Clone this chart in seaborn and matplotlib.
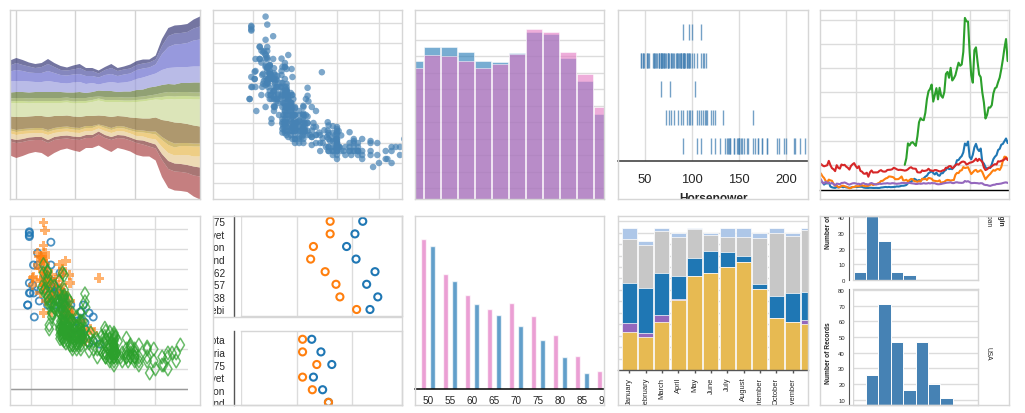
import numpy as np
import pandas as pd
import seaborn as sns
import matplotlib.pyplot as plt

sns.set_style("white")
plt.rcParams['font.family'] = ['Liberation Sans', 'DejaVu Sans']

# ---------------- data ----------------
# streamgraph, unemployment per industry (31 time steps)
agriculture = [5,5,5,4,4,4,5,4,4,3,4,4,3,3,3,3,4,3,3,4,4,4,3,4,7,8,8,8,8,9,10]
business = [6,7,6,6,5,6,7,6,5,5,5,6,5,5,4,5,6,5,5,5,5,5,5,5,8,11,11,11,11,12,13]
construction = [10,11,10,9,9,9,10,9,8,8,8,8,8,7,7,8,8,7,8,8,9,9,8,9,16,21,23,23,24,26,27]
education = [11,11,11,11,10,10,11,10,9,9,10,10,9,9,6,8,9,9,9,10,11,12,12,13,15,16,17,16,16,16,16]
finance = [6,6,6,6,6,6,6,6,6,5,6,6,5,5,6,6,6,5,6,6,7,7,8,8,8,8,8,9,9,10,10]
government = [3,3,3,3,3,3,3,3,3,3,3,3,3,3,2,3,3,3,3,3,3,3,3,3,4,4,4,4,4,4,4]
information = [2,2,2,2,2,2,2,2,2,2,2,2,2,2,2,2,2,2,2,2,2,2,2,2,3,3,3,3,3,3,3]
leisure = [13,14,14,13,13,13,14,13,13,13,13,14,13,14,15,14,15,14,14,15,16,17,18,18,20,22,23,24,25,26,27]
manufacturing = [12,13,12,12,12,12,13,12,11,11,11,11,10,10,9,10,11,10,10,11,12,12,13,14,17,20,21,20,19,18,17]
mining = [2,2,2,2,2,2,2,2,2,2,2,2,2,2,1,2,2,2,2,2,2,2,2,3,3,4,4,3,3,3,3]
other = [3,3,3,3,3,3,3,3,3,3,3,3,3,3,3,3,3,3,3,3,4,4,5,5,7,8,8,9,9,10,10]
self_employed = [5,5,5,4,4,4,5,4,4,4,4,4,4,4,3,4,4,4,4,4,4,4,4,5,7,8,8,9,10,10,11]
transport = [3,3,3,3,3,3,3,3,3,3,3,3,3,3,3,3,3,3,3,3,3,4,4,4,6,8,8,8,8,9,9]
wholesale = [14,15,14,13,12,13,14,13,11,10,11,12,10,10,11,11,12,10,11,11,12,12,10,12,17,19,19,19,19,21,23]

# cars: horsepower / miles per gallon by origin
usa_hp = [63,65,65,67,68,70,70,70,70,71,72,72,72,74,75,75,75,75,76,78,78,78,79,70,65,75,
          80,80,81,82,84,84,84,84,85,85, 85,85,85,86,86,88,88,88,88,88,
          88,88,88,88,88,88,88,88,90,90, 90,90,90,90,90,90,90,90,90,90,
          90,90,90,92,92,92,95,95,95,95, 95,95,95,96,97,97,97,97,98,98,
          98,98,90,85,86,88,90,92,95,97, 99,
          100,100,100,100,100,100,100,100,100,100, 100,100,105,105,105,105,105,105,105,105,
          105,105,107,108,110,110,110,110,110,110, 110,110,110,110,110,110,110,112,112,113,
          115,115,115,116,115,118,110,
          120,120,120,122,125,125,129,130,130,130,133,135,137,138,139,139,
          140,140,140,140,140,140,140,140,142,145, 145,145,145,145,145,145,148,148,149,150,
          150,150,150,150,150,150,150,150,150,150, 150,150,150,150,150,150,150,152,152,153,
          153,155,155,158,150,145,150,
          160,160,165,165,165,165,167,170,170,170,170,170,175,175,175,175,175,165,170,175,
          180,180,180,180,190,190,190,190,193,198,198,
          200,208,210,215,215,215,208, 220,225,225,230]
usa_mpg = [30.5,29.5,36.1,30,29,34.2,32,34.5,28,27,21,20,26,31,26,28,23,26.5,24,25.4,29,30.7,26,33,34,24,
           27.4,25,22,26,27,26.6,32,29,17.6,19.8, 20.2,21,24,22,25,18,19,20.2,21,22,
           24,26.4,27,28,34,19.8,20,23,18,19, 20,21,22,23.9,24.3,28,27,26,19.1,20.2,
           28.4,29.8,33.5,25.8,24,27,18,19,20.5,21, 22,23,27.5,27,18,19,20,21.5,18.5,19,
           20,22,23,18.5,19,17.5,17,16.5,17,16, 22,
           15,16,16,17,18,18,19,19,20,20.5, 22,24,15,16,16.5,18,18,19,19.2,20.5,
           20.6,23,18,16.5,15,16,17,17.5,18,18, 18.6,19,19.9,20,20.6,21.5,22,18,19,22,
           18,26.8,28.8,25.4,20,17,24,
           14.5,16.5,18.1,19,15,17,17.6,13,15,17,15,18.2,14,16.5,18.1,20.2,
           13,13,14,14,16,17,17.5,19.4,15.5,13, 13,14,15.5,16,17.5,19.2,17,14,16,11,
           13,13,14,14,14,15,15,15,15.5,16, 16,17,18,18.5,19,13,14,14,18,14,
           14,13,16.9,13,12,12,17.5,
           12,14,13,14,15,17.7,12,13,13,15,15.5,16,13,13,14,13,12,13,14,15,
           11,12,13,16,12,13,15,15.5,9,15,12,
           10,11,11,10,14,13,13, 14,14,12,16]
europe_hp = [46,46,48,48,48,48,48,48,49,52, 53,53,54,58,60,62,67,67,70,71,
             71,74,74,76,76,78,78,78,80,80, 83,83,85,86,87,88,88,90,90,90,
             95,95,96,97,98,100,102,103,105,110, 110,110,112,113,115,115,120,120,125,133,
             125,91,92,88,71,58,76,67]
europe_mpg = [26,26,43.1,44.3,43.4,44,31.5,29,29,31, 36,29,23,36,27,29.8,30,36,26,27,
              31,41.7,36,30,30.5,26,29,31,27,29, 30,29,34,28,25,27,28,24,28,22,
              25,24,25,23,26,22,20,20.3,22,19, 24.3,22.4,18,26,21.6,20,16.5,24,17,16.2,
              23,27,26,25,32,39,32,33]
japan_hp = [58,52,53,58,52,
            65,65,67,67,67,60,60,65,61,62, 63,65,67,68,68,69,70,75,75,65,
            68,75,72,70,75,67,70,65,79,75, 62,67,67,75,74,65,68,61,69,70, 75,
            88,90,97,88,95,97,92,88,88,97, 95,97,96,84,88,92,88,90,95,97, 88,84,90,85,94,
            100,110,115,110,112, 122,132,125]
japan_mpg = [39.1,31,33,36,32.8,
             46.6,40.8,44.6,36.4,38,35.1,38.1,37.2,32,37.7, 38,31,31,31,34.1,32.4,32.2,31,32.4,34.4,
             29.8,27,32,31,28,33.8,34.5,37,31.8,29, 32.3,39,33.8,33.7,28,24,27,29,31,32.7, 24.2,
             27,24,24,20,25,27,26,29,31,22, 23,31.5,33.5,36.1,35,37,34,29,18,19, 23,33,28,30,24.5,
             23.7,22,17,18,20, 20,32.7,19]

# overlapping histogram (two series)
hist_bins = [1,2,3,4,5,6,7,8,9,10,11,12]
hist_blue = [43.6,47.8,47.8,46.3,43.6,43.3,46.0,52.4,51.8,44.5,37.6,27.5]
hist_pink = [41.5,45.4,45.1,43.7,41.5,42.7,45.7,53.3,52.4,46.3,39.6,29.6]

# horsepower ticks by cylinders
hp_3cyl = [90,97,100,110]
hp_4cyl = [46,46,48,48,49,52,52,53,54,58,60,60,61,62,63,65,65,65,67,67,67,68,68,69,70,70,71,72,74,
           75,75,76,78,78,79,80,81,83,84,84,85,86,87,88,88,88,90,90,91,92,92,93,95,95,96,97,97,98,
           100,102,105,110,112,113,115]
hp_5cyl = [67,77,103]
hp_6cyl = [72,76,78,81,85,88,90,95,97,98,100,105,107,110,112,114,115,116,120,122,125,133,165]
hp_8cyl = [90,105,110,120,125,130,135,137,138,139,140,140,145,145,148,149,150,150,150,152,153,155,
           158,160,165,167,170,170,175,175,180,180,190,193,198,200,208,210,215,220,225,230]
cyl_labels = ['3', '4', '5', '6', '8']

# monthly stock prices 2000-01 .. 2010-03
msft = [39.81,36.35,43.22,28.37,25.45,32.54,28.4,28.4,24.53,28.02,23.34,17.65,
        24.84,24,22.25,27.56,28.14,29.7,26.93,23.21,20.82,23.65,26.12,26.95,
        25.92,23.73,24.53,21.26,25.71,27.12,23.12,22.88,20.69,25.34,27.5,24.28,
        22.14,22.04,22.7,24.74,23.68,24.89,25.66,25.81,26.88,25.49,25.26,26.85,
        26.49,25.2,24.35,25.27,25.57,27.99,27.91,27.13,27.21,27.43,28.2,26.63,
        25.91,24.99,23.59,23.9,25.45,24.38,25.13,26.89,25.32,25.55,27.16,25.74,
        27.46,26.53,26.7,23.74,22.33,22.75,23.48,25.39,26.69,28.15,28.95,29.32,
        30.26,27.37,27.17,29.95,30.54,28.92,28.46,28.01,28.98,35.78,33.22,35.09,
        31.16,26.86,27.39,27.98,27.31,26.83,25.45,26.78,26.24,21.17,19.24,19.09,
        16.88,15.67,18.05,20.06,20.66,23.34,23.45,24.36,25.38,27.44,29.12,30.23,
        28.0,28.49,29.27]
amzn = [64.56,68.87,67.0,55.19,48.31,36.31,30.12,41.5,38.44,36.62,24.69,15.56,
        17.31,10.19,10.23,15.78,16.69,14.15,12.49,8.94,5.97,6.98,11.32,10.82,
        14.19,14.1,14.3,16.69,18.23,16.25,14.45,14.94,15.93,19.36,23.35,18.89,
        21.85,22.01,26.03,28.69,35.89,36.32,41.64,46.32,48.43,54.43,53.97,52.62,
        50.4,43.01,43.28,43.6,48.5,54.4,38.92,38.14,40.86,34.13,39.68,44.29,
        43.22,35.18,34.27,32.36,35.51,33.09,45.15,42.7,45.3,39.86,48.46,47.15,
        44.82,37.44,36.53,35.21,34.61,38.68,26.89,30.83,32.12,38.09,40.34,39.46,
        37.67,39.14,39.79,61.33,69.14,68.41,78.54,79.91,93.15,89.15,90.56,92.64,
        77.7,64.47,71.3,78.63,81.62,73.33,76.34,80.81,72.76,57.24,42.7,51.28,
        58.82,64.79,73.44,80.52,77.99,83.66,85.76,81.19,93.36,118.81,135.91,134.52,
        125.41,118.4,128.82]
ibm = [100.52,92.11,106.11,99.95,96.31,98.33,100.74,118.62,101.19,88.5,84.12,76.47,
       100.76,89.98,86.63,103.7,100.82,102.35,94.87,90.25,82.82,97.58,104.5,109.36,
       97.54,88.82,96.44,77.24,74.25,66.36,65.5,69.94,53.44,71.5,79.2,70.49,
       71.22,71.13,71.57,77.47,80.48,75.42,74.28,75.12,81.22,81.85,82.14,84.03,
       89.84,87.77,83.77,81.19,81.98,81.24,80.14,78.39,79.85,83.99,89.77,92.48,
       87.3,86.71,85.98,71.88,71.01,70.97,79.48,76.91,77.98,79.61,86.16,79.54,
       78.76,77.18,80.8,80.43,77.63,75.35,75.81,79.56,80.54,90.37,89.76,96.67,
       97.01,88.26,92.4,100.84,105.36,103.17,109.41,114.45,115.91,113.26,103.86,106.6,
       110.94,112.29,114.81,119.74,127.81,117.76,126.9,120.81,115.13,91.8,80.81,83.93,
       90.2,91.96,96.25,101.53,105.34,103.72,117.05,115.85,118.56,120.42,124.62,130.9,
       122.27,126.3,126.28]
goog = [102.37,129.6,190.64,181.98,192.79,
        195.62,187.99,180.51,220,277.27,294.15,287.76,286,316.46,372.14,404.91,414.86,
        432.66,362.62,390,417.94,371.82,419.33,386.6,378.53,401.9,476.39,484.81,460.48,
        501.5,449.45,458.16,471.38,497.91,522.7,510,515.25,567.27,707,693,691.48,
        564.3,471.18,440.47,574.29,585.8,526.42,473.75,463.29,400.52,359.36,292.96,307.65,
        338.53,337.99,348.06,395.97,417.23,421.59,443.05,461.67,495.85,536.12,583,619.98,
        529.94,526.8,560.19]
aapl = [25.94,28.66,33.95,31.01,21,26.19,25.41,30.47,12.88,9.78,8.25,7.44,
        10.81,9.12,11.03,12.74,9.98,11.62,9.4,9.27,7.76,8.78,10.65,10.95,
        12.36,10.85,11.84,12.14,11.65,8.86,7.63,7.38,7.25,8.03,7.75,7.16,
        7.18,7.51,7.07,7.11,8.98,9.53,10.54,11.31,10.36,11.44,10.45,10.69,
        11.28,11.96,13.52,12.89,14.03,16.27,16.17,17.25,19.38,26.2,33.53,32.2,
        38.45,44.86,41.67,36.06,39.76,36.81,42.65,46.89,53.61,57.59,67.82,71.89,
        75.51,68.49,62.72,70.39,59.77,57.27,67.96,67.85,76.98,81.08,91.66,84.84,
        85.73,84.61,92.91,99.8,121.19,122.04,131.76,138.48,153.47,189.95,182.22,198.08,
        135.36,125.02,143.5,173.95,188.75,167.44,158.95,169.53,113.66,107.59,92.67,85.35,
        90.13,89.31,105.12,125.83,135.81,142.43,163.39,168.21,185.35,188.5,199.91,210.73,
        192.06,204.62,223.02]

# barley yields for two sites
varieties = ['Svansota', 'Manchuria', 'No. 475', 'Velvet', 'Glabron', 'Peatland',
             'No. 462', 'No. 457', 'Wisconsin No. 38', 'Trebi']
waseca_1931 = [47.0, 45.0, 43.7, 40.9, 37.9, 41.3, 48.1, 45.1, 49.1, 46.3]
waseca_1932 = [30.0, 32.0, 32.0, 32.0, 26.0, 25.0, 30.2, 34.1, 35.5, 41.5]
crookston_1931 = [25.4, 28.7, 32.6, 26.0, 29.3, 31.4, 30.0, 29.0, 33.0, 36.0]
crookston_1932 = [22.1, 22.1, 27.2, 22.1, 25.6, 31.4, 25.0, 26.0, 27.0, 30.0]

# population by age (millions)
ages = [50, 55, 60, 65, 70, 75, 80, 85, 90]
pop_female = [9.33, 7.19, 5.89, 5.0, 5.38, 4.56, 3.38, 2.06, 1.13]
pop_male = [8.89, 6.75, 5.33, 4.63, 3.94, 3.06, 2.0, 1.0, 0.45]

# weather days per month
month_names = ['January', 'February', 'March', 'April', 'May', 'June', 'July',
               'August', 'September', 'October', 'November', 'December']
w_sun = [33, 29, 42, 61, 82, 85, 90, 94, 71, 45, 42, 40]
w_snow = [8, 3, 6, 1, 0, 0, 0, 0, 0, 0, 0, 4]
w_rain = [35, 40, 37, 20, 16, 19, 13, 6, 4, 20, 25, 24]
w_fog = [38, 37, 36, 34, 25, 14, 13, 16, 40, 55, 50, 54]
w_drizzle = [10, 4, 3, 4, 1, 2, 8, 8, 5, 4, 3, 2]

# horsepower histogram bins
hist_edges = [40, 60, 80, 100, 120, 140, 160, 180, 200, 220, 240]

# ---------------- layout helpers ----------------
W, H = 1025, 414
GRID = '#dcdcdc'
EDGE = '#d6d6d6'
DARK = '#555555'

fig = plt.figure(figsize=(W / 100, H / 100), dpi=100)
clip_pairs = []
clip_texts = []


def box(x0, y0, x1, y1):
    return [x0 / W, 1 - y1 / H, (x1 - x0) / W, (y1 - y0) / H]


def frame(x0, y0, x1, y1):
    fa = fig.add_axes(box(x0, y0, x1, y1), zorder=10)
    fa.patch.set_visible(False)
    fa.set_xlim(x0, x1)
    fa.set_ylim(y1, y0)
    fa.set_xticks([])
    fa.set_yticks([])
    for s in fa.spines.values():
        s.set_color(EDGE)
        s.set_linewidth(1)
    return fa


def bare(ax):
    for s in ax.spines.values():
        s.set_visible(False)
    ax.tick_params(length=0, labelbottom=False, labelleft=False)
    ax.set_xlabel('')
    ax.set_ylabel('')
    ax.set_axisbelow(True)


# ---------------- 1: streamgraph ----------------
f1 = frame(10, 11, 200, 200)
ax1 = fig.add_axes(box(10, 11, 200, 200))
stream_x = np.linspace(2000.7, 2010.3, 31)
layers = [wholesale, transport, self_employed, other, mining, manufacturing, leisure,
          information, government, finance, education, construction, business, agriculture]
layer_colors = ['#ad494a', '#843c39', '#e7cb94', '#e7ba52', '#bd9e39', '#8c6d31', '#cedb9c',
                '#b5cf6b', '#8ca252', '#637939', '#9c9ede', '#6b6ecf', '#5254a3', '#393b79']
ax1.stackplot(stream_x, *layers, baseline='sym', colors=layer_colors, alpha=0.7,
              edgecolor='none', linewidth=0)
ax1.set_xlim(2000.7, 2010.3)
ax1.set_ylim(-91, 98)
ax1.set_xticks([2001, 2004, 2007])
ax1.set_yticks([])
bare(ax1)
ax1.grid(axis='x', color='#d2d2d2', lw=1)

# ---------------- 2: scatter ----------------
f2 = frame(213, 11, 402, 200)
ax2 = fig.add_axes(box(213, 11, 402, 200))
all_hp = usa_hp + europe_hp + japan_hp
all_mpg = usa_mpg + europe_mpg + japan_mpg
sns.scatterplot(x=all_hp, y=all_mpg, ax=ax2, color='#4682b4', alpha=0.7, s=22,
                edgecolor='none')
ax2.set_xlim(2.4, 227.4)
ax2.set_ylim(1, 48.25)
ax2.set_xticks([50, 100, 150, 200])
ax2.set_yticks(range(5, 50, 5))
bare(ax2)
ax2.grid(True, color=GRID, lw=1)

# ---------------- 3: overlapping bars ----------------
f3 = frame(415, 11, 604, 200)
ax3 = fig.add_axes(box(415.3, 11, 604.3, 200))
sns.barplot(x=hist_bins, y=hist_blue, color='#1f77b4', alpha=0.6, saturation=1, width=0.94,
            edgecolor='white', linewidth=0.6, errorbar=None, ax=ax3)
sns.barplot(x=hist_bins, y=hist_pink, color='#e377c2', alpha=0.6, saturation=1, width=0.94,
            edgecolor='white', linewidth=0.6, errorbar=None, ax=ax3)
ax3.set_xlim(0.018, 11.135)
ax3.set_ylim(1.76, 59.0)
ax3.set_yticks(range(5, 60, 5))
bare(ax3)
ax3.grid(axis='y', color=GRID, lw=1)

# ---------------- 4: tick strips ----------------
f4 = frame(618, 11, 808, 200)
ax4 = fig.add_axes(box(618, 11, 808, 162))
for i, vals in enumerate([hp_3cyl, hp_4cyl, hp_5cyl, hp_6cyl, hp_8cyl]):
    ax4.vlines(vals, i - 0.27, i + 0.27, color='#4682b4', alpha=0.75, lw=1)
ax4.set_xlim(21.3, 223.4)
ax4.set_ylim(4.53, -0.77)
ax4.set_xticks([50, 100, 150, 200])
ax4.set_yticks([])
for s in ['top', 'right', 'left']:
    ax4.spines[s].set_visible(False)
ax4.spines['bottom'].set_color('#444444')
ax4.spines['bottom'].set_linewidth(1.2)
ax4.tick_params(axis='x', length=3.4, width=1, color='#444444', pad=5.4, labelsize=9.4)
ax4.set_xlabel('Horsepower', fontweight='bold', fontsize=8.6, labelpad=5.2)
ax4.set_axisbelow(True)
ax4.grid(axis='x', color=GRID, lw=1)
clip_pairs.append((ax4, f4))

# ---------------- 5: stock lines ----------------
f5 = frame(820, 11, 1009, 200)
ax5 = fig.add_axes(box(820, 11, 1008, 190.7))
months = 2000 + np.arange(len(msft)) / 12
stocks = pd.concat([
    pd.DataFrame({'date': months, 'price': aapl, 'symbol': 'AAPL'}),
    pd.DataFrame({'date': months, 'price': amzn, 'symbol': 'AMZN'}),
    pd.DataFrame({'date': months[-len(goog):], 'price': goog, 'symbol': 'GOOG'}),
    pd.DataFrame({'date': months, 'price': ibm, 'symbol': 'IBM'}),
    pd.DataFrame({'date': months, 'price': msft, 'symbol': 'MSFT'}),
])
sns.lineplot(data=stocks, x='date', y='price', hue='symbol',
             hue_order=['AAPL', 'AMZN', 'GOOG', 'IBM', 'MSFT'],
             palette=['#1f77b4', '#ff7f0e', '#2ca02c', '#d62728', '#9467bd'],
             lw=1.5, legend=False, ax=ax5)
ax5.set_xlim(2000.12, 2010.02)
ax5.set_ylim(0, 739.5)
ax5.set_xticks([2002, 2004, 2006, 2008, 2010])
ax5.set_yticks(range(100, 800, 100))
for s in ['top', 'right', 'left']:
    ax5.spines[s].set_visible(False)
ax5.spines['bottom'].set_color('black')
ax5.spines['bottom'].set_linewidth(1)
ax5.tick_params(axis='x', length=2.9, width=1, color='black', labelbottom=False)
ax5.tick_params(axis='y', length=0, labelleft=False)
ax5.set_xlabel('')
ax5.set_ylabel('')
ax5.set_axisbelow(True)
ax5.grid(True, color=GRID, lw=1)

# ---------------- 6: scatter by origin ----------------
f6 = frame(10, 217, 200, 406)
ax6 = fig.add_axes(box(10, 217, 188, 406))
sns.scatterplot(x=europe_hp, y=europe_mpg, marker='o', s=26, color='#1f77b4',
                facecolor='none', edgecolor='#1f77b4', linewidth=1.3, alpha=0.8, ax=ax6)
sns.scatterplot(x=japan_hp, y=japan_mpg, marker='P', s=48, color='#ff7f0e',
                edgecolor='none', alpha=0.6, ax=ax6)
sns.scatterplot(x=usa_hp, y=usa_mpg, marker='d', s=48, color='#2ca02c',
                facecolor='none', edgecolor='#2ca02c', linewidth=1.1, alpha=0.7, ax=ax6)
ax6.set_xlim(24.7, 239.2)
ax6.set_ylim(1, 48.25)
ax6.set_xticks([50, 100, 150, 200])
ax6.set_yticks(range(5, 50, 5))
bare(ax6)
ax6.grid(True, color=GRID, lw=1)
ax6.axhline(5, color='#9a9a9a', lw=1)

# ---------------- 7: barley dot plot ----------------
f7 = frame(213, 217, 402, 406)
f7.axhline(317.5, color=EDGE, lw=1)
ax7a = fig.add_axes(box(241, 217, 402.3, 317.3))
ax7b = fig.add_axes(box(241, 331.7, 402.3, 406))
for ax, y31, y32, lim in [(ax7a, waseca_1931, waseca_1932, (9.54, 1.58)),
                          (ax7b, crookston_1931, crookston_1932, (5.21, -0.68))]:
    sns.scatterplot(x=y31, y=varieties, s=26, color='#1f77b4', facecolor='none',
                    edgecolor='#1f77b4', linewidth=1.5, ax=ax)
    sns.scatterplot(x=y32, y=varieties, s=26, color='#ff7f0e', facecolor='none',
                    edgecolor='#ff7f0e', linewidth=1.5, ax=ax)
    ax.set_xlim(0, 57.9)
    ax.set_ylim(*lim)
    ax.set_xticks([0, 20, 40])
    ax.set_xlabel('')
    ax.set_ylabel('')
    for s in ['top', 'right', 'bottom']:
        ax.spines[s].set_color(EDGE)
        ax.spines[s].set_linewidth(1)
    ax.spines['left'].set_position(('outward', 5))
    ax.spines['left'].set_color(DARK)
    ax.spines['left'].set_linewidth(1)
    ax.tick_params(axis='x', length=0, labelbottom=False)
    ax.tick_params(axis='y', length=5.3, width=1, color=DARK, pad=1.2, labelsize=7.2)
    ax.set_axisbelow(True)
    ax.grid(axis='x', color=GRID, lw=1)
    clip_pairs.append((ax, f7))

# ---------------- 8: grouped bars ----------------
f8 = frame(415, 217, 604, 406)
ax8 = fig.add_axes(box(415.3, 217, 604.3, 390))
pop = pd.DataFrame({'age': ages * 2, 'people': pop_female + pop_male,
                    'sex': ['female'] * len(ages) + ['male'] * len(ages)})
sns.barplot(data=pop, x='age', y='people', hue='sex', hue_order=['female', 'male'],
            palette=['#e377c2', '#1f77b4'], alpha=0.7, saturation=1, width=0.82, gap=0.415,
            errorbar=None, legend=False, ax=ax8)
ax8.set_xlim(-0.59, 8.0)
ax8.set_ylim(0, 10.79)
for s in ['top', 'right', 'left']:
    ax8.spines[s].set_visible(False)
ax8.spines['bottom'].set_color('black')
ax8.spines['bottom'].set_linewidth(1.1)
ax8.tick_params(axis='x', length=0, pad=4, labelsize=7.2)
ax8.tick_params(axis='y', length=0, labelleft=False)
ax8.set_xlabel('')
ax8.set_ylabel('')
clip_pairs.append((ax8, f8))

# ---------------- 9: stacked weather bars ----------------
f9 = frame(618, 217, 808, 406)
ax9 = fig.add_axes(box(618.3, 217, 807.7, 371))
stack = np.cumsum([w_sun, w_snow, w_rain, w_fog, w_drizzle], axis=0)
stack_colors = ['#e7ba52', '#9467bd', '#1f77b4', '#c7c7c7', '#aec7e8']
for level in range(4, -1, -1):
    sns.barplot(x=month_names, y=stack[level], color=stack_colors[level], saturation=1,
                width=0.92, edgecolor='white', linewidth=0.5, errorbar=None, ax=ax9)
ax9.set_xlim(-0.667, 10.92)
ax9.set_ylim(0, 134.5)
ax9.set_yticks(range(10, 140, 10))
for s in ['top', 'right', 'left']:
    ax9.spines[s].set_visible(False)
ax9.spines['bottom'].set_color(DARK)
ax9.spines['bottom'].set_linewidth(1)
ax9.tick_params(axis='x', length=2.2, width=1, color=DARK, pad=2.7, labelsize=5.4,
                rotation=90, bottom=True)
ax9.tick_params(axis='y', length=0, labelleft=False)
ax9.set_xlabel('')
ax9.set_ylabel('')
ax9.set_axisbelow(True)
ax9.grid(axis='y', color=GRID, lw=1)
clip_pairs.append((ax9, f9))

# ---------------- 10: faceted histograms ----------------
f10 = frame(820, 217, 1009, 406)
ax10a = fig.add_axes(box(853.3, 217, 978.3, 281))
ax10b = fig.add_axes(box(853.3, 290, 978.3, 406))
for ax, vals, ylim, ticks in [(ax10a, japan_hp, (0, 40.8), range(0, 50, 10)),
                              (ax10b, usa_hp, (6.75, 80.6), range(10, 90, 10))]:
    sns.histplot(x=vals, bins=hist_edges, color='#4682b4', alpha=1, edgecolor='white',
                 linewidth=0.7, ax=ax)
    ax.set_xlim(39.4, 241)
    ax.set_ylim(*ylim)
    ax.set_yticks(ticks)
    ax.set_xticks([])
    ax.set_xlabel('')
    for s in ['top', 'right', 'bottom']:
        ax.spines[s].set_color(EDGE)
        ax.spines[s].set_linewidth(1)
    ax.spines['left'].set_position(('outward', 2.9))
    ax.spines['left'].set_color(DARK)
    ax.spines['left'].set_linewidth(0.8)
    ax.axvline(39.6, color=EDGE, lw=1)
    ax.tick_params(axis='y', length=2.6, width=0.8, color=DARK, pad=0.5, labelsize=4.3)
    ax.set_axisbelow(True)
    ax.grid(axis='y', color=GRID, lw=1)
    ax.set_ylabel('Number of Records', fontweight='bold', fontsize=4.8)
    clip_pairs.append((ax, f10))
ax10a.yaxis.set_label_coords(-0.172, 0.989)
ax10b.yaxis.set_label_coords(-0.172, 0.454)
clip_texts.append((ax10a.text(1.078, 0.989, 'Japan', rotation=-90, ha='center', va='center',
                              fontsize=4.8, transform=ax10a.transAxes), f10))
clip_texts.append((ax10a.text(1.176, 1.0, 'Origin', rotation=-90, ha='center', va='center',
                              fontsize=4.8, fontweight='bold', transform=ax10a.transAxes), f10))
ax10b.text(1.078, 0.454, 'USA', rotation=-90, ha='center', va='center', fontsize=4.8,
           transform=ax10b.transAxes)

# clip overflowing labels to their thumbnail frame
fig.canvas.draw()
for ax, fa in clip_pairs:
    for t in ax.get_xticklabels() + ax.get_yticklabels() + [ax.xaxis.label, ax.yaxis.label]:
        t.set_clip_box(fa.bbox)
        t.set_clip_on(True)
for t, fa in clip_texts:
    t.set_clip_box(fa.bbox)
    t.set_clip_on(True)

fig.savefig('out.png', dpi=100)
